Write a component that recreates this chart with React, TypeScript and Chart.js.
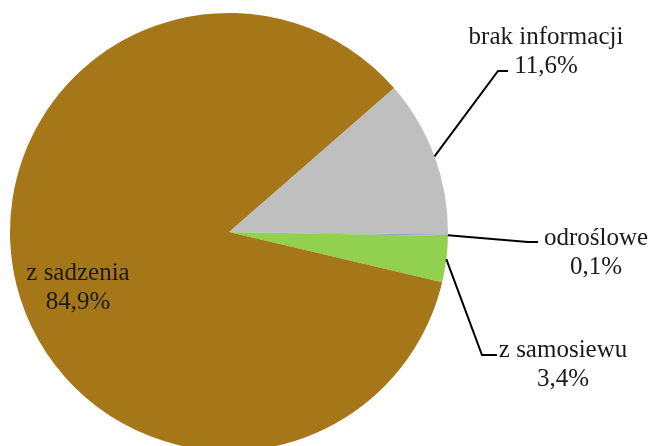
import React, { useEffect, useRef } from "react";
import { Chart, registerables } from "chart.js";

Chart.register(...registerables);

const categories = ["brak informacji", "odroślowe", "z samosiewu", "z sadzenia"];
const values = [11.6, 0.1, 3.4, 84.9];
const valueLabels = ["11,6%", "0,1%", "3,4%", "84,9%"];
const colors = ["#BFBFBF", "#8EA4C2", "#92D050", "#A67719"];

const FONT = '25px "Times New Roman"';

// label layout: text centre and leader-line elbow (null = label inside slice)
const labelLayout = [
  { tx: 546, ty: 37, elbow: [498, 71], end: [508, 71] },
  { tx: 596, ty: 238, elbow: [528, 242], end: [538, 242] },
  { tx: 563, ty: 350, elbow: [482, 355], end: [497, 355] },
  { tx: 78, ty: 273, elbow: null, end: null },
];

const labelPlugin = {
  id: "pieLabels",
  afterDraw(chart: any) {
    const ctx = chart.ctx;
    const meta = chart.getDatasetMeta(0);
    ctx.save();
    ctx.font = FONT;
    ctx.fillStyle = "#1a1a1a";
    ctx.textAlign = "center";
    ctx.textBaseline = "middle";
    meta.data.forEach((arc: any, i: number) => {
      const lay = labelLayout[i];
      const mid = (arc.startAngle + arc.endAngle) / 2;
      if (lay.elbow) {
        const sx = arc.x + Math.cos(mid) * arc.outerRadius;
        const sy = arc.y + Math.sin(mid) * arc.outerRadius;
        ctx.beginPath();
        ctx.strokeStyle = "#000";
        ctx.lineWidth = 2;
        ctx.moveTo(sx, sy);
        ctx.lineTo(lay.elbow[0], lay.elbow[1]);
        ctx.lineTo(lay.end[0], lay.end[1]);
        ctx.stroke();
      }
      ctx.fillText(categories[i], lay.tx, lay.ty);
      ctx.fillText(valueLabels[i], lay.tx, lay.ty + 29);
    });
    ctx.restore();
  },
};

export default function App() {
  const ref = useRef<HTMLCanvasElement>(null);
  useEffect(() => {
    if (!ref.current) return;
    const chart = new Chart(ref.current, {
      type: "pie",
      data: {
        labels: categories,
        datasets: [
          {
            data: values,
            backgroundColor: colors,
            borderWidth: 0,
          },
        ],
      },
      options: {
        responsive: false,
        animation: false,
        rotation: 48.9,
        layout: { padding: { left: 10, top: 13, right: 202, bottom: 29 } },
        plugins: {
          legend: { display: false },
          tooltip: { enabled: false },
        },
      },
      plugins: [labelPlugin],
    });
    return () => chart.destroy();
  }, []);
  return (
    <div
      style={{
        position: "fixed",
        left: 0,
        top: 0,
        width: 650,
        height: 446,
        overflow: "hidden",
        background: "#fff",
      }}
    >
      <canvas ref={ref} width={650} height={480} style={{ display: "block" }} />
    </div>
  );
}
